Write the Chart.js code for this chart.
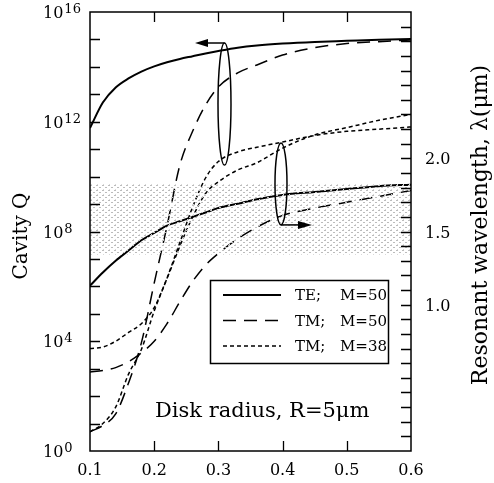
<!DOCTYPE html>
<html>
<head>
<meta charset="utf-8">
<script src="https://cdn.jsdelivr.net/npm/chart.js@4/dist/chart.umd.min.js"></script>
<style>
html, body { margin: 0; padding: 0; background: #fff; }
</style>
</head>
<body>
<canvas id="qChart" width="494" height="483"></canvas>
<script>
// x axis (um)
var radius = [0.1, 0.12, 0.14, 0.16, 0.18, 0.2, 0.22, 0.24, 0.26, 0.28, 0.3, 0.33, 0.36, 0.4, 0.45, 0.5, 0.55, 0.6];

// log10 of cavity Q, left axis
var qTE50 = [11.77, 12.7, 13.25, 13.58, 13.83, 14.02, 14.17, 14.29, 14.39, 14.49, 14.58, 14.7, 14.78, 14.85, 14.91, 14.95, 14.99, 15.02];
var qTM50 = [0.7, 0.93, 1.35, 2.48, 3.94, 6.12, 8.2, 10.42, 11.66, 12.61, 13.27, 13.78, 14.07, 14.43, 14.7, 14.85, 14.92, 14.98];
var qTM38 = [0.7, 1.0, 1.6, 2.8, 3.7, 5.1, 6.3, 7.6, 8.9, 9.95, 10.55, 10.9, 11.07, 11.26, 11.5, 11.65, 11.73, 11.81];

// resonant wavelength (um), right axis
var lamTE50 = [1.13, 1.22, 1.30, 1.37, 1.44, 1.49, 1.54, 1.57, 1.60, 1.63, 1.66, 1.69, 1.72, 1.75, 1.77, 1.79, 1.81, 1.82];
var lamTM50 = [0.54, 0.55, 0.57, 0.61, 0.67, 0.75, 0.87, 1.02, 1.16, 1.27, 1.35, 1.45, 1.53, 1.61, 1.66, 1.70, 1.74, 1.78];
var lamTM38 = [0.70, 0.71, 0.75, 0.81, 0.87, 0.98, 1.18, 1.40, 1.60, 1.76, 1.84, 1.92, 1.97, 2.07, 2.16, 2.21, 2.26, 2.30];

// stippled wavelength band
var bandX = [0.1, 0.6];
var bandTop = [1.83, 1.83];
var bandBottom = [1.34, 1.34];

// tick labels
var xTicks = [0.1, 0.2, 0.3, 0.4, 0.5, 0.6];
var qTicks = [0, 4, 8, 12, 16];
var lamTicks = [1.0, 1.5, 2.0];
var legendRows = [['TE;', 'M=50'], ['TM;', 'M=50'], ['TM;', 'M=38']];

var SERIF = '"DejaVu Serif", serif';
var LONG_DASH = [13, 8];
var SHORT_DASH = [4, 3];

function pts(xs, ys) {
    return xs.map(function (x, i) { return { x: x, y: ys[i] }; });
}

var canvas = document.getElementById('qChart');
var ctx = canvas.getContext('2d');

// stipple pattern for the band
var pc = document.createElement('canvas');
pc.width = 6; pc.height = 5;
var pctx = pc.getContext('2d');
pctx.fillStyle = '#bcbcbc';
pctx.fillRect(0, 0, 2, 1);
pctx.fillRect(3, 2, 2, 1);
pctx.fillStyle = '#d8d8d8';
pctx.fillRect(1, 4, 1, 1);
var stipple = ctx.createPattern(pc, 'repeat');

function lineSet(data, axis, width, dash) {
    return {
        data: data,
        yAxisID: axis,
        borderColor: '#000',
        borderWidth: width,
        borderDash: dash,
        pointRadius: 0,
        fill: false,
        cubicInterpolationMode: 'monotone'
    };
}

// frame, ticks, labels, legend and the ellipse markers
var decorations = {
    id: 'decorations',
    afterDraw: function (chart) {
        var c = chart.ctx;
        var x = chart.scales.x, y = chart.scales.y, y1 = chart.scales.y1;
        var a = chart.chartArea;
        c.save();
        c.strokeStyle = '#000';
        c.fillStyle = '#000';

        // box
        c.lineWidth = 1.5;
        c.strokeRect(a.left, a.top, a.right - a.left, a.bottom - a.top);

        // inward ticks
        c.lineWidth = 1.3;
        c.beginPath();
        for (var v = 0.2; v < 0.59; v += 0.1) {
            var px = Math.round(x.getPixelForValue(v)) + 0.5;
            c.moveTo(px, a.bottom); c.lineTo(px, a.bottom - 10);
            c.moveTo(px, a.top); c.lineTo(px, a.top + 10);
        }
        for (var d = 1; d < 16; d++) {
            var py = Math.round(y.getPixelForValue(d)) + 0.5;
            c.moveTo(a.left, py); c.lineTo(a.left + 10, py);
        }
        for (var k = 1; k < 30; k++) {
            var py2 = Math.round(y1.getPixelForValue(k / 10)) + 0.5;
            c.moveTo(a.right, py2); c.lineTo(a.right - 10, py2);
        }
        c.stroke();

        // x tick labels
        c.font = '16px ' + SERIF;
        c.textAlign = 'center';
        c.textBaseline = 'alphabetic';
        xTicks.forEach(function (t) {
            c.fillText(t.toFixed(1), x.getPixelForValue(t), 475);
        });

        // left tick labels 10^n
        c.textAlign = 'left';
        qTicks.forEach(function (t) {
            var py = y.getPixelForValue(t);
            c.font = '16px ' + SERIF;
            c.fillText('10', 43, py + 6);
            var w = c.measureText('10').width;
            c.font = '13px ' + SERIF;
            c.fillText(String(t), 43 + w + 1, py + 1);
        });

        // right tick labels
        c.font = '16px ' + SERIF;
        lamTicks.forEach(function (t) {
            c.fillText(t.toFixed(1), 425, y1.getPixelForValue(t) + 6);
        });

        // axis titles
        c.textAlign = 'center';
        c.textBaseline = 'middle';
        c.font = '20px ' + SERIF;
        c.save();
        c.translate(22, 236);
        c.rotate(-Math.PI / 2);
        c.fillText('Cavity Q', 0, 0);
        c.restore();
        c.font = '22px ' + SERIF;
        c.save();
        c.translate(481, 225);
        c.rotate(-Math.PI / 2);
        c.fillText('Resonant wavelength, \u03bb(\u03bcm)', 0, 0);
        c.restore();

        // caption inside the plot
        c.textAlign = 'left';
        c.textBaseline = 'alphabetic';
        c.font = '21px ' + SERIF;
        c.fillText('Disk radius, R=5\u03bcm', 155, 417);

        // legend
        c.lineWidth = 1.5;
        c.strokeRect(210.5, 280.5, 178, 83);
        var dashes = [[], LONG_DASH, SHORT_DASH];
        var widths = [2, 1.5, 1.5];
        c.font = '15px ' + SERIF;
        legendRows.forEach(function (row, i) {
            var ry = 295 + i * 25.5;
            c.setLineDash(dashes[i]);
            c.lineWidth = widths[i];
            c.beginPath();
            c.moveTo(223, ry); c.lineTo(281, ry);
            c.stroke();
            c.setLineDash([]);
            c.fillText(row[0], 295, ry + 5);
            c.fillText(row[1], 340, ry + 5);
        });

        // ellipse around the Q curves, arrow to the left axis
        c.lineWidth = 1.5;
        var e1x = x.getPixelForValue(0.3095);
        var e1t = y.getPixelForValue(14.87), e1b = y.getPixelForValue(10.42);
        c.beginPath();
        c.ellipse(e1x, (e1t + e1b) / 2, 6.5, (e1b - e1t) / 2, 0, 0, Math.PI * 2);
        c.stroke();
        var tip1 = x.getPixelForValue(0.2636);
        c.beginPath();
        c.moveTo(e1x, e1t); c.lineTo(tip1 + 12, e1t);
        c.stroke();
        c.beginPath();
        c.moveTo(tip1, e1t); c.lineTo(tip1 + 13, e1t - 4); c.lineTo(tip1 + 13, e1t + 4);
        c.closePath(); c.fill();

        // ellipse around the wavelength curves, arrow to the right axis
        var e2x = x.getPixelForValue(0.3975);
        var e2t = y1.getPixelForValue(2.105), e2b = y1.getPixelForValue(1.545);
        c.beginPath();
        c.ellipse(e2x, (e2t + e2b) / 2, 6, (e2b - e2t) / 2, 0, 0, Math.PI * 2);
        c.stroke();
        var tip2 = x.getPixelForValue(0.4458);
        c.beginPath();
        c.moveTo(e2x, e2b); c.lineTo(tip2 - 12, e2b);
        c.stroke();
        c.beginPath();
        c.moveTo(tip2, e2b); c.lineTo(tip2 - 14, e2b - 4); c.lineTo(tip2 - 14, e2b + 4);
        c.closePath(); c.fill();

        c.restore();
    }
};

var chart = new Chart(ctx, {
    type: 'line',
    data: {
        datasets: [
            {
                data: pts(bandX, bandTop),
                yAxisID: 'y1',
                borderWidth: 0,
                pointRadius: 0,
                backgroundColor: stipple,
                fill: '+1'
            },
            {
                data: pts(bandX, bandBottom),
                yAxisID: 'y1',
                borderWidth: 0,
                pointRadius: 0,
                fill: false
            },
            lineSet(pts(radius, qTE50), 'y', 2, []),
            lineSet(pts(radius, qTM50), 'y', 1.5, LONG_DASH),
            lineSet(pts(radius, qTM38), 'y', 1.5, SHORT_DASH),
            lineSet(pts(radius, lamTE50), 'y1', 2, []),
            lineSet(pts(radius, lamTM50), 'y1', 1.5, LONG_DASH),
            lineSet(pts(radius, lamTM38), 'y1', 1.5, SHORT_DASH)
        ]
    },
    options: {
        responsive: false,
        animation: false,
        devicePixelRatio: 1,
        layout: { padding: { top: 12, left: 0, right: 0, bottom: 0 } },
        plugins: {
            legend: { display: false },
            tooltip: { enabled: false }
        },
        scales: {
            x: {
                type: 'linear', min: 0.1, max: 0.6,
                ticks: { display: false },
                grid: { display: false },
                border: { display: false },
                afterFit: function (s) { s.height = 32; }
            },
            y: {
                type: 'linear', position: 'left', min: 0, max: 16,
                ticks: { display: false },
                grid: { display: false },
                border: { display: false },
                afterFit: function (s) { s.width = 90; }
            },
            y1: {
                type: 'linear', position: 'right', min: 0, max: 3,
                ticks: { display: false },
                grid: { display: false },
                border: { display: false },
                afterFit: function (s) { s.width = 83; }
            }
        }
    },
    plugins: [decorations]
});
</script>
</body>
</html>
